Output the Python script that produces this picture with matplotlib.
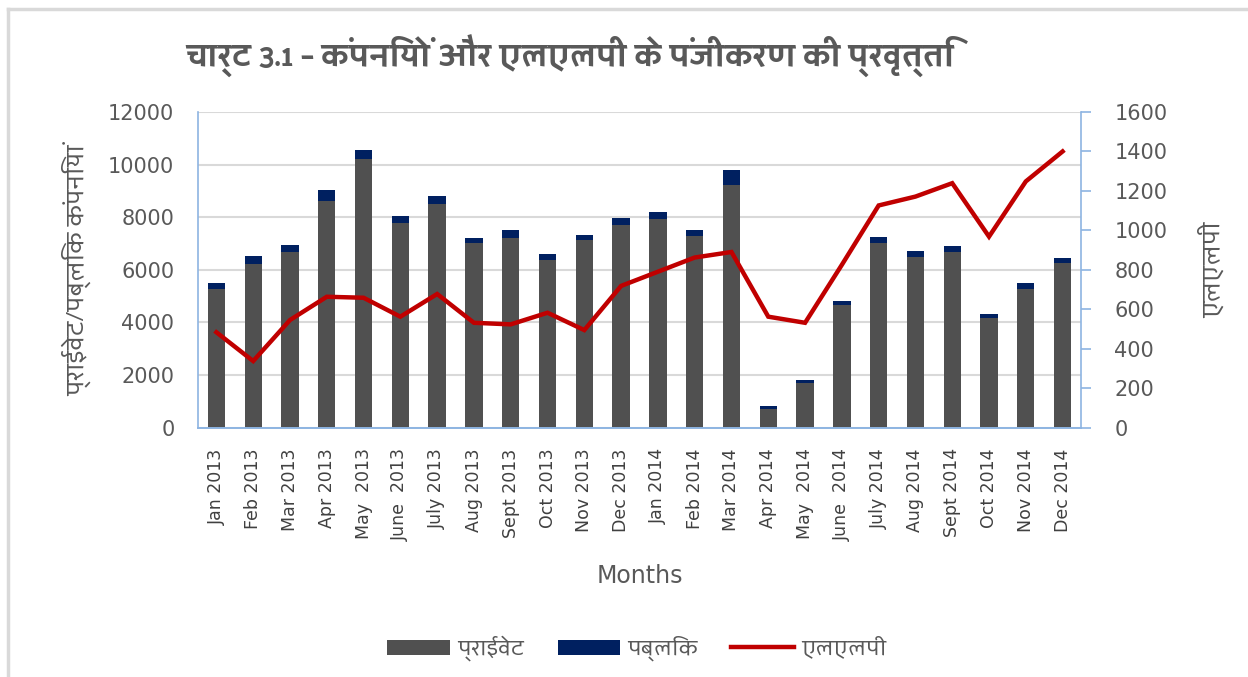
import matplotlib
matplotlib.use("Agg")
import matplotlib.pyplot as plt
import numpy as np
from matplotlib.lines import Line2D

months = ["Jan 2013", "Feb 2013", "Mar 2013", "Apr 2013", "May  2013", "June  2013",
          "July 2013", "Aug 2013", "Sept 2013", "Oct 2013", "Nov 2013", "Dec 2013",
          "Jan 2014", "Feb 2014", "Mar 2014", "Apr 2014", "May  2014", "June  2014",
          "July 2014", "Aug 2014", "Sept 2014", "Oct 2014", "Nov 2014", "Dec 2014"]
private = [5280, 6220, 6690, 8610, 10210, 7770, 8510, 7000, 7190, 6360, 7140, 7720,
           7920, 7290, 9240, 690, 1710, 4650, 7030, 6500, 6690, 4160, 5280, 6260]
public = [230, 290, 245, 430, 345, 290, 280, 190, 340, 230, 190, 255,
          290, 240, 535, 110, 100, 150, 215, 205, 205, 140, 205, 190]
llp = [483, 337, 545, 663, 658, 562, 677, 531, 523, 582, 494, 718,
       790, 862, 890, 562, 531, 825, 1126, 1171, 1239, 968, 1248, 1400]

title = "चार्ट 3.1 – कंपनियों और एलएलपी के पंजीकरण की प्रवृत्ति"
hindi = ['Palanquin', 'DejaVu Sans']
grey_txt = '#595959'
blue_ax = '#8DB4E2'

fig = plt.figure(figsize=(12.48, 6.77), dpi=100)
ax = fig.add_axes([198 / 1248, 1 - 427.5 / 677, 883 / 1248, 315.5 / 677])
ax2 = ax.twinx()

x = np.arange(len(months))
ax.bar(x, private, width=0.47, color='#505050', label='प्राईवेट', zorder=2)
ax.bar(x, public, width=0.47, bottom=private, color='#002060', label='पब्लिक', zorder=2)
ax2.plot(x, llp, color='#C00000', lw=3.2, label='एलएलपी', solid_joinstyle='miter')

ax.set_xlim(-0.5, len(months) - 0.5)
ax.set_ylim(0, 12000)
ax.set_yticks(range(0, 12001, 2000))
ax2.set_ylim(0, 1600)
ax2.set_yticks(range(0, 1601, 200))
ax.yaxis.grid(True, color='#D9D9D9', lw=1.5, zorder=0)
ax.set_axisbelow(True)

for a in (ax, ax2):
    a.spines['top'].set_visible(False)
    for s in ('left', 'right', 'bottom'):
        a.spines[s].set_color(blue_ax)
        a.spines[s].set_linewidth(1.2)
ax.spines['right'].set_visible(False)
ax2.spines['left'].set_visible(False)

ax.set_xticks(x)
ax.set_xticklabels(months, rotation=90, fontsize=12.5, color='#404040',
                   family='DejaVu Sans')
ax.tick_params(axis='x', length=0, pad=15)
ax.tick_params(axis='y', length=0, pad=17, labelsize=15, labelcolor=grey_txt)
ax2.tick_params(axis='y', length=7, width=1.2, color=blue_ax, pad=17,
                labelsize=15, labelcolor=grey_txt)

ax.set_xlabel('Months', fontsize=17, color=grey_txt, family='DejaVu Sans',
              labelpad=16)
ax.set_ylabel('प्राईवेट/पब्लिक कंपनियां', fontsize=17, color=grey_txt,
              family=hindi, labelpad=12)
ax2.set_ylabel('एलएलपी', fontsize=17, color=grey_txt, family=hindi,
               rotation=90, labelpad=22)

fig.text(570 / 1248, 1 - 56 / 677, title, ha='center', va='center',
         fontsize=22, fontweight='bold', color=grey_txt, family=hindi)

h1, l1 = ax.get_legend_handles_labels()
h2, l2 = ax2.get_legend_handles_labels()
fig.legend(h1 + h2, l1 + l2, loc='center', bbox_to_anchor=(637 / 1248, 1 - 648 / 677),
           ncol=3, frameon=False, prop={'family': hindi, 'size': 15},
           handlelength=3.0, handleheight=0.75, handletextpad=0.35,
           columnspacing=1.6, labelcolor=grey_txt)

# light grey frame like the source
fig.add_artist(Line2D([8 / 1248, 8 / 1248], [0, 1 - 9 / 677], color='#D9D9D9', lw=2.5))
fig.add_artist(Line2D([8 / 1248, 1], [1 - 9 / 677, 1 - 9 / 677], color='#D9D9D9', lw=2.5))

fig.savefig('out.png', dpi=100)
